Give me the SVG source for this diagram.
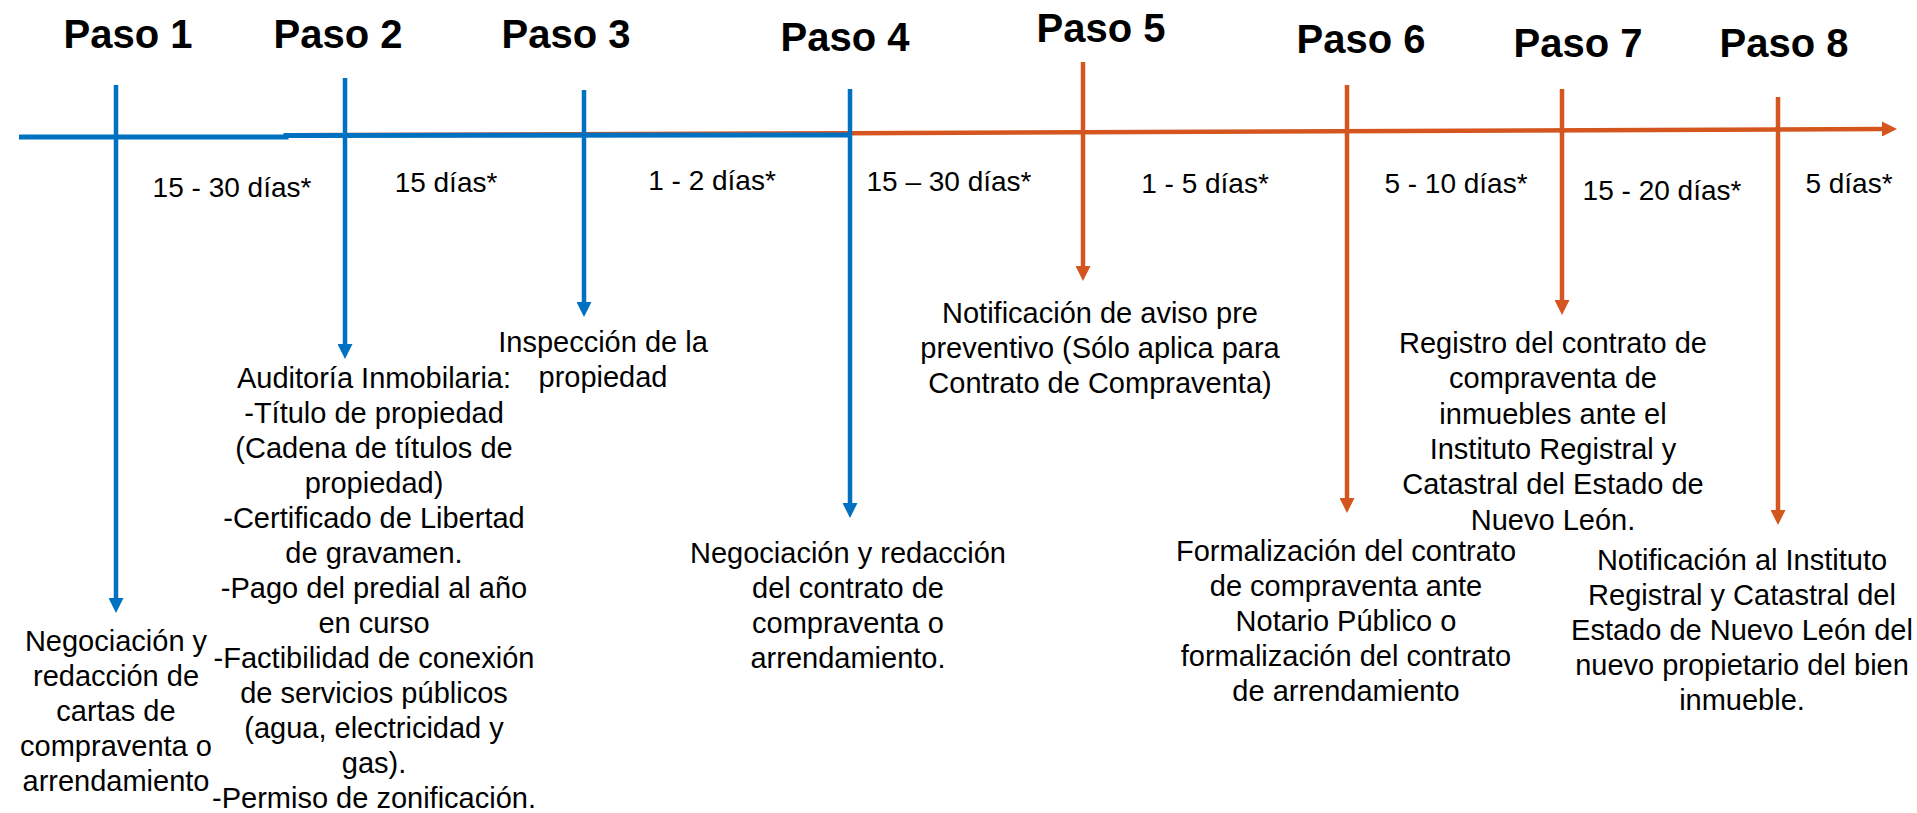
<svg xmlns="http://www.w3.org/2000/svg" width="1917" height="813" viewBox="0 0 1917 813">
<style>
text{font-family:"Liberation Sans",Arial,sans-serif;fill:#000;text-anchor:middle}
.h{font-size:40px;font-weight:bold}
.d{font-size:28px}
.t{font-size:29px}
.b{stroke:#0070C0;fill:none}
.o{stroke:#D4561E;fill:none}
.v{stroke-width:4.5}
.m{stroke-width:5}
</style>
<defs>
<marker id="ab" markerUnits="userSpaceOnUse" markerWidth="15" markerHeight="15" viewBox="0 0 15 15" refX="0" refY="7.5" orient="auto"><path d="M0,0 L15,7.5 L0,15 z" fill="#0070C0"/></marker>
<marker id="ao" markerUnits="userSpaceOnUse" markerWidth="15" markerHeight="15" viewBox="0 0 15 15" refX="0" refY="7.5" orient="auto"><path d="M0,0 L15,7.5 L0,15 z" fill="#D4561E"/></marker>
</defs>
<g id="connectors">
<polyline class="o" stroke-width="4.5" points="286,135.3 851,133.2 1882,129" marker-end="url(#ao)"/>
<polyline class="b m" points="19,137 286,137 286,135.5 851,135"/>
<line class="b v" x1="116" y1="85" x2="116" y2="598" marker-end="url(#ab)"/>
<line class="b v" x1="345" y1="78" x2="345" y2="344" marker-end="url(#ab)"/>
<line class="b v" x1="584" y1="90" x2="584" y2="302" marker-end="url(#ab)"/>
<line class="b v" x1="850" y1="89" x2="850" y2="503" marker-end="url(#ab)"/>
<line class="o v" x1="1083" y1="62" x2="1083" y2="266" marker-end="url(#ao)"/>
<line class="o v" x1="1347" y1="85" x2="1347" y2="498" marker-end="url(#ao)"/>
<line class="o v" x1="1562" y1="89" x2="1562" y2="300" marker-end="url(#ao)"/>
<line class="o v" x1="1778" y1="97" x2="1778" y2="510" marker-end="url(#ao)"/>
</g>
<g id="durations">
<text class="d" x="232" y="197">15 - 30 días*</text>
<text class="d" x="446" y="192">15 días*</text>
<text class="d" x="712" y="190">1 - 2 días*</text>
<text class="d" x="949" y="191">15 – 30 días*</text>
<text class="d" x="1205" y="193">1 - 5 días*</text>
<text class="d" x="1456" y="193">5 - 10 días*</text>
<text class="d" x="1662" y="200">15 - 20 días*</text>
<text class="d" x="1849" y="193">5 días*</text>
</g>
<g id="paso1">
<text class="h" x="128" y="48">Paso 1</text>
<text class="t"><tspan x="116" y="651">Negociación y</tspan><tspan x="116" dy="35">redacción de</tspan><tspan x="116" dy="35">cartas de</tspan><tspan x="116" dy="35">compraventa o</tspan><tspan x="116" dy="35">arrendamiento</tspan></text>
</g>
<g id="paso2">
<text class="h" x="338" y="48">Paso 2</text>
<text class="t"><tspan x="374" y="388">Auditoría Inmobilaria:</tspan><tspan x="374" dy="35">-Título de propiedad</tspan><tspan x="374" dy="35">(Cadena de títulos de</tspan><tspan x="374" dy="35">propiedad)</tspan><tspan x="374" dy="35">-Certificado de Libertad</tspan><tspan x="374" dy="35">de gravamen.</tspan><tspan x="374" dy="35">-Pago del predial al año</tspan><tspan x="374" dy="35">en curso</tspan><tspan x="374" dy="35">-Factibilidad de conexión</tspan><tspan x="374" dy="35">de servicios públicos</tspan><tspan x="374" dy="35">(agua, electricidad y</tspan><tspan x="374" dy="35">gas).</tspan><tspan x="374" dy="35">-Permiso de zonificación.</tspan></text>
</g>
<g id="paso3">
<text class="h" x="566" y="48">Paso 3</text>
<text class="t"><tspan x="603" y="352">Inspección de la</tspan><tspan x="603" dy="35">propiedad</tspan></text>
</g>
<g id="paso4">
<text class="h" x="845" y="51">Paso 4</text>
<text class="t"><tspan x="848" y="563">Negociación y redacción</tspan><tspan x="848" dy="35">del contrato de</tspan><tspan x="848" dy="35">compraventa o</tspan><tspan x="848" dy="35">arrendamiento.</tspan></text>
</g>
<g id="paso5">
<text class="h" x="1101" y="42">Paso 5</text>
<text class="t"><tspan x="1100" y="323">Notificación de aviso pre</tspan><tspan x="1100" dy="35">preventivo (Sólo aplica para</tspan><tspan x="1100" dy="35">Contrato de Compraventa)</tspan></text>
</g>
<g id="paso6">
<text class="h" x="1361" y="53">Paso 6</text>
<text class="t"><tspan x="1346" y="561">Formalización del contrato</tspan><tspan x="1346" dy="35">de compraventa ante</tspan><tspan x="1346" dy="35">Notario Público o</tspan><tspan x="1346" dy="35">formalización del contrato</tspan><tspan x="1346" dy="35">de arrendamiento</tspan></text>
</g>
<g id="paso7">
<text class="h" x="1578" y="57">Paso 7</text>
<text class="t"><tspan x="1553" y="353">Registro del contrato de</tspan><tspan x="1553" dy="35.3">compraventa de</tspan><tspan x="1553" dy="35.3">inmuebles ante el</tspan><tspan x="1553" dy="35.3">Instituto Registral y</tspan><tspan x="1553" dy="35.3">Catastral del Estado de</tspan><tspan x="1553" dy="35.3">Nuevo León.</tspan></text>
</g>
<g id="paso8">
<text class="h" x="1784" y="57">Paso 8</text>
<text class="t"><tspan x="1742" y="570">Notificación al Instituto</tspan><tspan x="1742" dy="35">Registral y Catastral del</tspan><tspan x="1742" dy="35">Estado de Nuevo León del</tspan><tspan x="1742" dy="35">nuevo propietario del bien</tspan><tspan x="1742" dy="35">inmueble.</tspan></text>
</g>
</svg>
